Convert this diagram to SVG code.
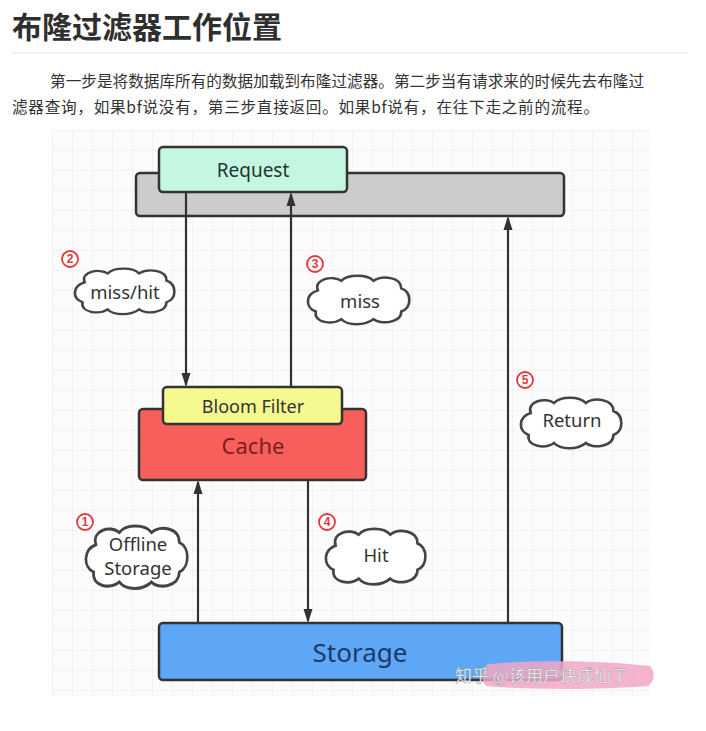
<svg xmlns="http://www.w3.org/2000/svg" width="706" height="731" viewBox="0 0 706 731">
<style>
  .title{font-family:"Noto Sans CJK SC","Noto Sans",sans-serif;font-weight:bold;font-size:30px;fill:#2f2f2f}
  .para{font-family:"Noto Sans CJK SC","Noto Sans",sans-serif;font-size:15.6px;fill:#333}
  .box{stroke:#333;stroke-width:2.5}
  .lbl{font-family:"Noto Sans","Open Sans","Noto Sans CJK SC",sans-serif;text-anchor:middle;dominant-baseline:central}
  .cloud{fill:#fff;stroke:#444;stroke-width:2.5}
  .ctext{font-family:"Noto Sans","Open Sans",sans-serif;font-size:18.5px;fill:#333;text-anchor:middle;dominant-baseline:central}
  .num circle{fill:#fff;stroke:#e0393b;stroke-width:1.8}
  .num text{font-family:"Liberation Sans",sans-serif;font-weight:bold;font-size:12px;fill:#e0393b;text-anchor:middle;dominant-baseline:central}
  .conn line{stroke:#333;stroke-width:2.2}
</style>
<defs>
  <pattern id="grid" width="20" height="20" patternUnits="userSpaceOnUse" x="52" y="130">
    <path d="M20 0H0V20" fill="none" stroke="#e8e8e8" stroke-width="1"/>
  </pattern>
  <marker id="arr" markerWidth="14" markerHeight="12" refX="12" refY="6" orient="auto" markerUnits="userSpaceOnUse">
    <path d="M0 1.5L14 6L0 10.5Z" fill="#333"/>
  </marker>
  <path id="cloudShape" d="M12 16C8 4 26 0 34 6C40 -1 58 -1 64 6C72 0 90 2 90 14C100 18 100 34 90 38C90 50 70 52 64 46C56 53 40 53 34 46C26 52 8 50 10 38C0 34 0 20 12 16Z"/>
</defs>
<rect width="706" height="731" fill="#fff"/>
<text class="title" x="12" y="38">布隆过滤器工作位置</text>
<line x1="12" y1="53" x2="688" y2="53" stroke="#e6e6e6" stroke-width="1"/>
<text class="para" x="50" y="87" textLength="594" lengthAdjust="spacing">第一步是将数据库所有的数据加载到布隆过滤器。第二步当有请求来的时候先去布隆过</text>
<text class="para" x="12" y="113" textLength="587" lengthAdjust="spacing">滤器查询，如果bf说没有，第三步直接返回。如果bf说有，在往下走之前的流程。</text>

<rect x="52" y="130" width="598" height="566" fill="#fcfcfc"/>
<rect x="52" y="130" width="598" height="566" fill="url(#grid)"/>

<g id="gatewayBar"><rect class="box" x="136" y="173" width="428" height="43" rx="4" fill="#cccccc"/></g>
<g id="request"><rect class="box" x="159" y="147" width="188" height="45" rx="4" fill="#c4f7e2"/><text class="lbl" x="253" y="170" font-size="19" fill="#23352c">Request</text></g>
<g id="cache"><rect class="box" x="139" y="409" width="227" height="71" rx="4" fill="#f65f5b"/><text class="lbl" x="253" y="445" font-size="22" fill="#7a1e1e">Cache</text></g>
<g id="bloomFilter"><rect class="box" x="163" y="387" width="179" height="37" rx="4" fill="#f6f990"/><text class="lbl" x="253" y="406" font-size="18" fill="#333">Bloom Filter</text></g>
<g id="storage"><rect class="box" x="159" y="623" width="403" height="57" rx="4" fill="#5ea7f6"/><text class="lbl" x="360" y="652" font-size="26" fill="#1d3a66">Storage</text></g>

<g id="connectors" class="conn">
  <line x1="186" y1="192" x2="186" y2="385" marker-end="url(#arr)"/>
  <line x1="291" y1="387" x2="291" y2="194" marker-end="url(#arr)"/>
  <line x1="508" y1="623" x2="508" y2="218" marker-end="url(#arr)"/>
  <line x1="198" y1="623" x2="198" y2="482" marker-end="url(#arr)"/>
  <line x1="308" y1="480" x2="308" y2="621" marker-end="url(#arr)"/>
</g>

<g id="label2"><use href="#cloudShape" class="cloud" transform="translate(72 268) scale(1.05 0.9)"/><text class="ctext" x="125" y="291">miss/hit</text><g class="num"><circle cx="70" cy="259" r="8"/><text x="70" y="259">2</text></g></g>
<g id="label3"><use href="#cloudShape" class="cloud" transform="translate(305 275) scale(1.07 0.96)"/><text class="ctext" x="360" y="300">miss</text><g class="num"><circle cx="315" cy="264" r="8"/><text x="315" y="264">3</text></g></g>
<g id="label5"><use href="#cloudShape" class="cloud" transform="translate(518 397) scale(1.06 1)"/><text class="ctext" x="572" y="419">Return</text><g class="num"><circle cx="525" cy="380" r="8"/><text x="525" y="380">5</text></g></g>
<g id="label1"><use href="#cloudShape" class="cloud" transform="translate(83 525) scale(1.07 1.24)"/><text class="ctext" x="138" y="543">Offline</text><text class="ctext" x="138" y="567">Storage</text><g class="num"><circle cx="85" cy="522" r="8"/><text x="85" y="522">1</text></g></g>
<g id="label4"><use href="#cloudShape" class="cloud" transform="translate(323 528) scale(1.05 1.1)"/><text class="ctext" x="376" y="554">Hit</text><g class="num"><circle cx="327" cy="522" r="8"/><text x="327" y="522">4</text></g></g>

<g id="watermark">
  <path d="M488 664C530 660 600 660 650 666C656 672 654 682 648 686C600 690 530 690 486 686C480 680 482 668 488 664Z" fill="#f2a6c6" opacity="0.85"/>
  <text x="455" y="682" font-family="Noto Sans CJK SC,sans-serif" font-size="17" fill="#fff" stroke="#999" stroke-width="0.4">知乎 @该用户快成仙了</text>
</g>
</svg>
